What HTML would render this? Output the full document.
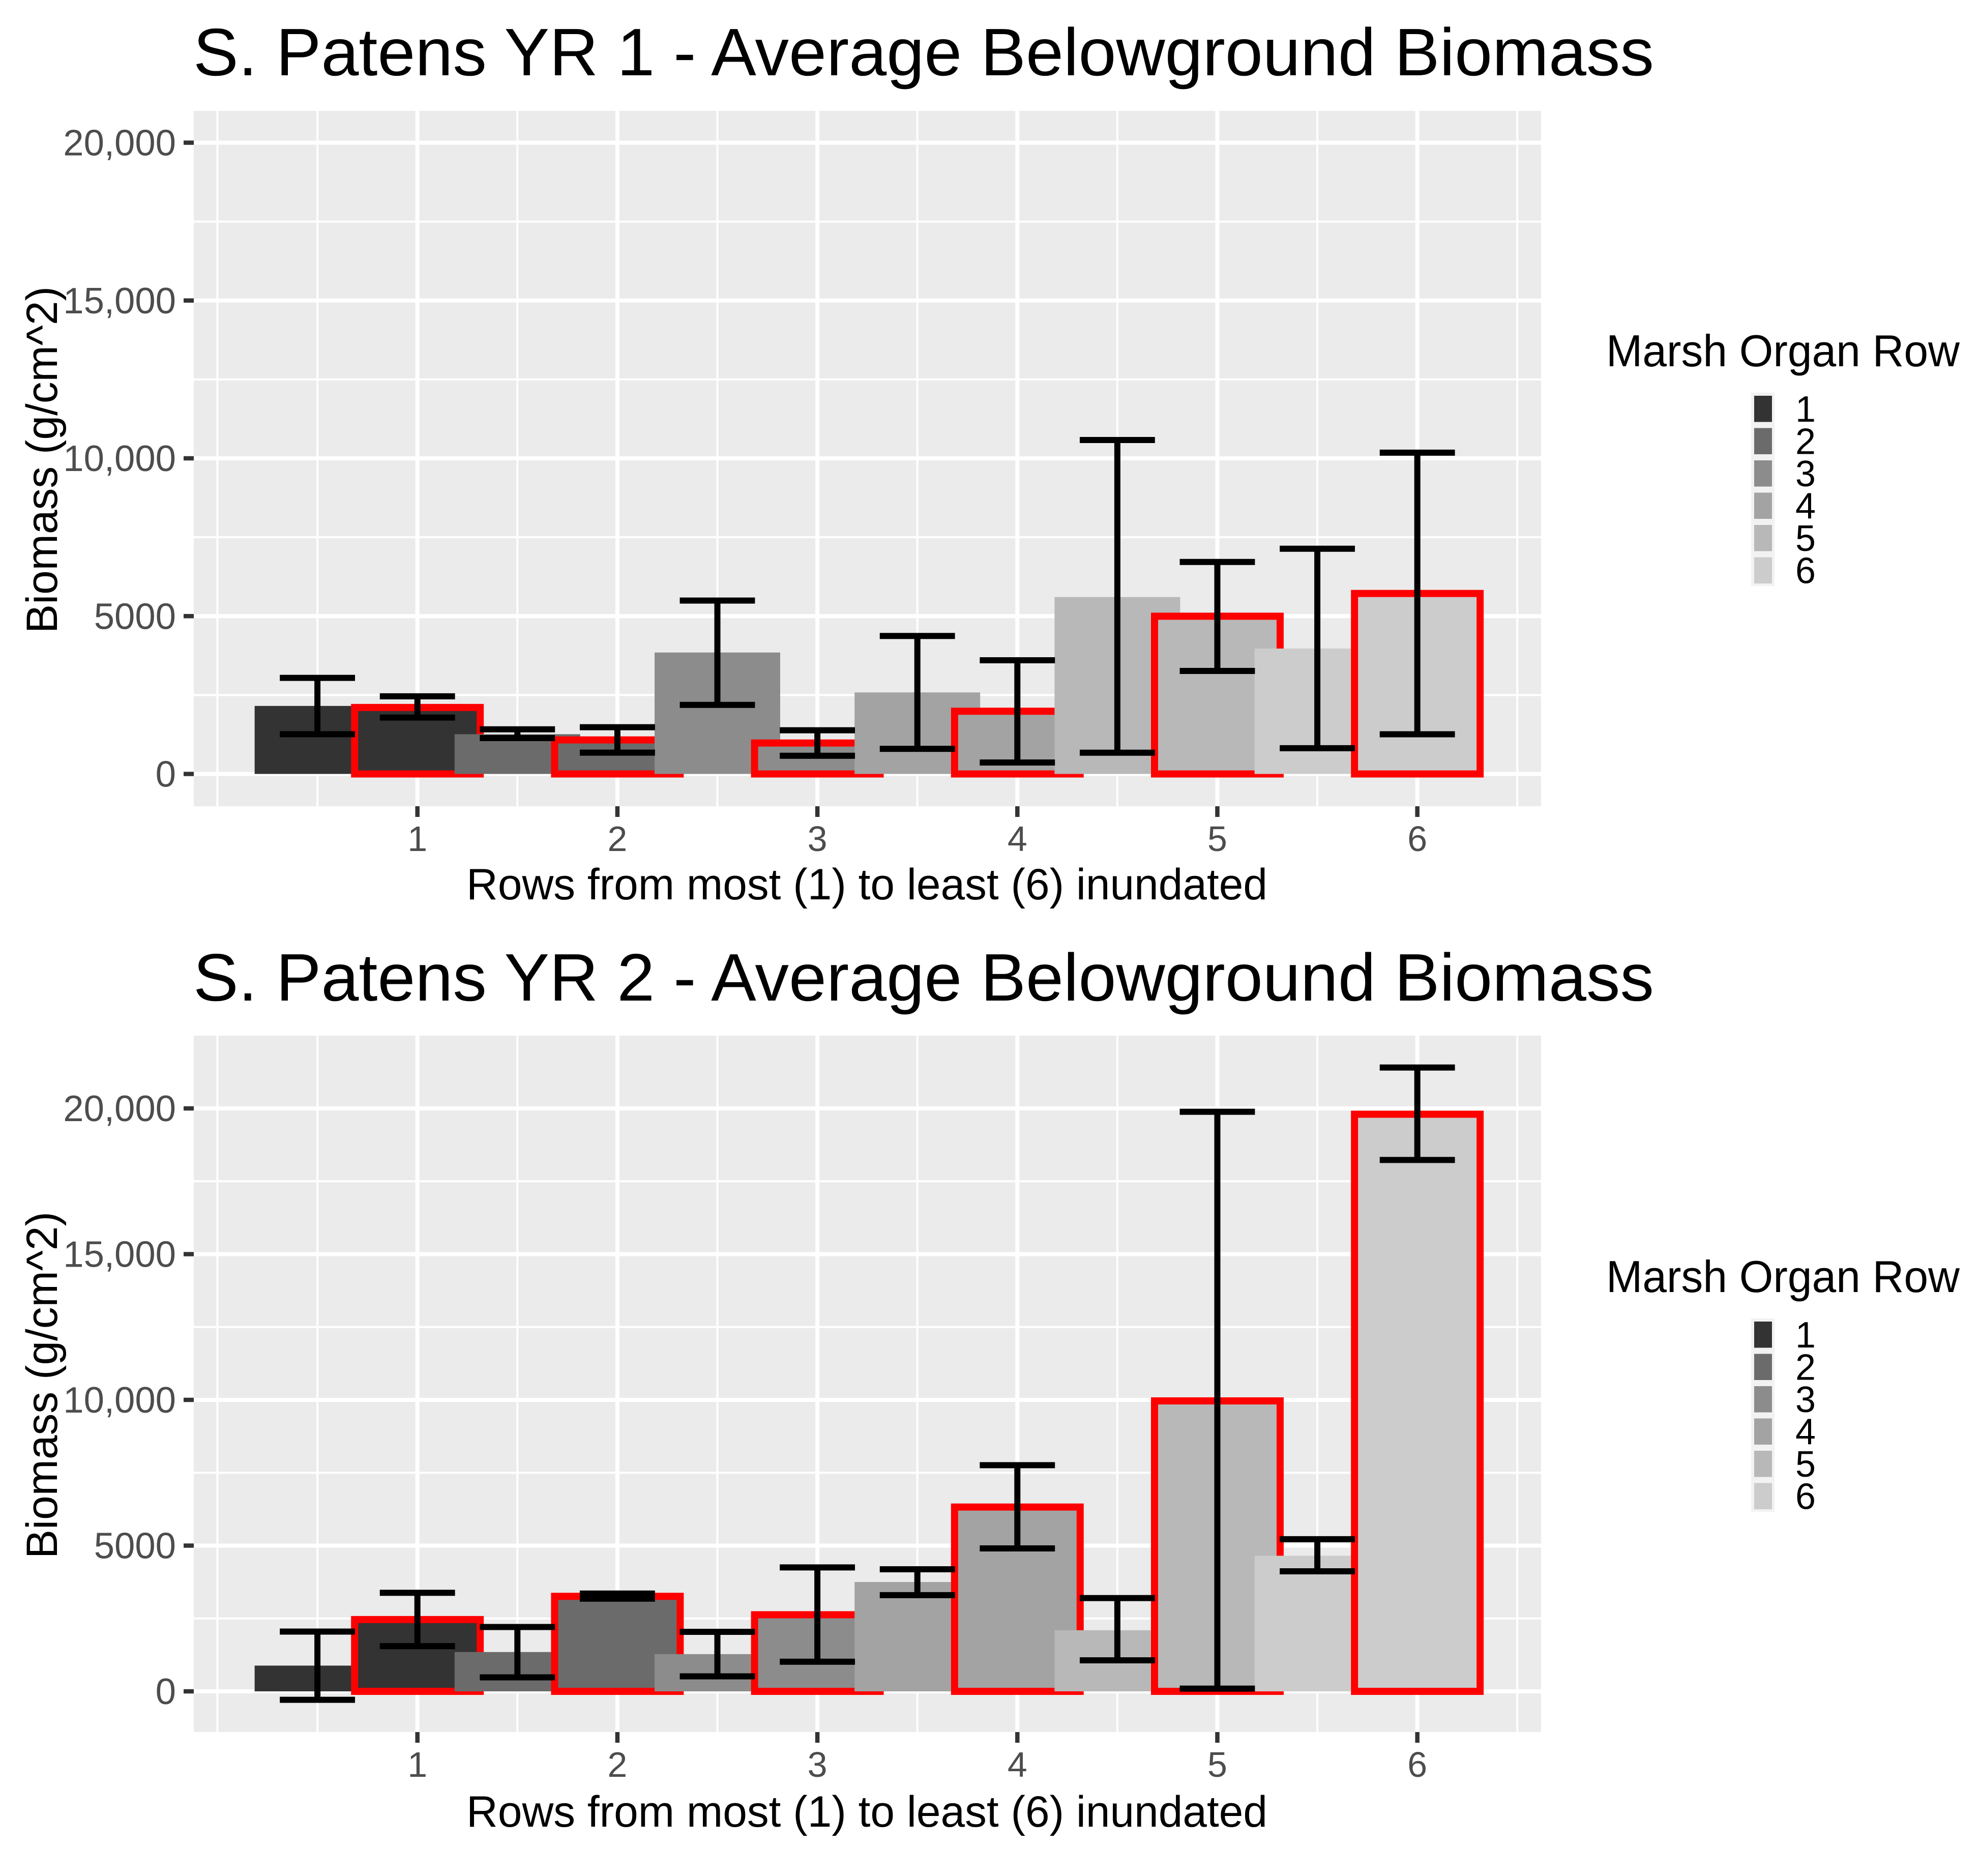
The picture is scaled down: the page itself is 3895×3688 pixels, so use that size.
<!DOCTYPE html>
<html lang="en">
<head>
<meta charset="utf-8">
<title>S. Patens Average Belowground Biomass</title>
<style>
html,body{margin:0;padding:0;background:#fff;}
svg{display:block;}
text{font-family:"Liberation Sans",Arial,sans-serif;}
</style>
</head>
<body>
<svg id="figure" xmlns="http://www.w3.org/2000/svg" width="3895" height="3688" viewBox="0 0 3895 3688">
  <rect width="3895" height="3688" fill="#ffffff"/>
  <text x="380" y="148" font-size="132" fill="#000" textLength="2872" lengthAdjust="spacingAndGlyphs">S. Patens YR 1 - Average Belowground Biomass</text>
  <text x="380" y="1967" font-size="132" fill="#000" textLength="2872" lengthAdjust="spacingAndGlyphs">S. Patens YR 2 - Average Belowground Biomass</text>
  <g id="panel-1"></g>
  <g id="panel-2"></g>
  <text x="917" y="1768" font-size="86" fill="#000" textLength="1575" lengthAdjust="spacingAndGlyphs">Rows from most (1) to least (6) inundated</text>
  <text x="917" y="3591" font-size="86" fill="#000" textLength="1575" lengthAdjust="spacingAndGlyphs">Rows from most (1) to least (6) inundated</text>
  <text transform="translate(112 1245) rotate(-90)" x="0" y="0" font-size="86" fill="#000" textLength="682" lengthAdjust="spacingAndGlyphs">Biomass (g/cm^2)</text>
  <text transform="translate(112 3064) rotate(-90)" x="0" y="0" font-size="86" fill="#000" textLength="682" lengthAdjust="spacingAndGlyphs">Biomass (g/cm^2)</text>
  <text x="3158" y="720" font-size="88" fill="#000" textLength="695" lengthAdjust="spacingAndGlyphs">Marsh Organ Row</text>
  <text x="3158" y="2540" font-size="88" fill="#000" textLength="695" lengthAdjust="spacingAndGlyphs">Marsh Organ Row</text>
  <g id="legend-1"></g>
  <g id="legend-2"></g>
</svg>
<script>
// Data
const barPositions = [0.5, 1, 1.5, 2, 2.5, 3, 3.5, 4, 4.5, 5, 5.5, 6];
const barRows = [1, 1, 2, 2, 3, 3, 4, 4, 5, 5, 6, 6];
const year1Means = [2155, 2106, 1259, 1078, 3848, 980, 2583, 1987, 5605, 4997, 3973, 5718];
const year1Upper = [3044, 2459, 1415, 1481, 5494, 1383, 4371, 3602, 10580, 6716, 7136, 10179];
const year1Lower = [1259, 1786, 1136, 675, 2188, 577, 795, 363, 672, 3264, 815, 1257];
const year2Means = [883, 2463, 1349, 3260, 1277, 2628, 3752, 6323, 2097, 9965, 4653, 19800];
const year2Upper = [2050, 3382, 2208, 3356, 2042, 4251, 4188, 7759, 3200, 19885, 5221, 21403];
const year2Lower = [-291, 1550, 480, 3181, 515, 1016, 3300, 4904, 1064, 94, 4119, 18230];
const xTicks = [1, 2, 3, 4, 5, 6];
const xMinorBreaks = [0, 0.5, 1.5, 2.5, 3.5, 4.5, 5.5, 6.5];
const yTicks = [0, 5000, 10000, 15000, 20000];
const yTickLabels = ['0', '5000', '10,000', '15,000', '20,000'];
const legendRows = ['1', '2', '3', '4', '5', '6'];
const rowShades = ['#333333', '#6b6b6b', '#8c8c8c', '#a3a3a3', '#b8b8b8', '#cccccc'];

const NS = 'http://www.w3.org/2000/svg';
const PANEL_LEFT = 381;
const PANEL_RIGHT = 3030;
const BAR_HALF = 0.314;
const CAP_HALF = 0.188;

function xScale(v) {
  return 820.7 + (v - 1) * 393.2;
}
function make(parent, tag, attrs) {
  const el = document.createElementNS(NS, tag);
  for (const k in attrs) el.setAttribute(k, attrs[k]);
  parent.appendChild(el);
  return el;
}

function drawPanel(root, top, bottom, yScale, yearLabel, means, upper, lower) {
  const bg = make(root, 'rect', {x: PANEL_LEFT, y: top, width: PANEL_RIGHT - PANEL_LEFT, height: bottom - top, fill: '#ebebeb'});
  
  

  // minor gridlines
  for (let i = 0; i < yTicks.length - 1; i++) {
    const y = yScale((yTicks[i] + yTicks[i + 1]) / 2);
    const g = make(root, 'line', {x1: PANEL_LEFT, x2: PANEL_RIGHT, y1: y, y2: y, stroke: '#fff', 'stroke-width': 4});
    
    
  }
  xMinorBreaks.forEach(function (b) {
    const x = xScale(b);
    const g = make(root, 'line', {x1: x, x2: x, y1: top, y2: bottom, stroke: '#fff', 'stroke-width': 4});
    
    
  });
  // major gridlines
  yTicks.forEach(function (t) {
    const y = yScale(t);
    const g = make(root, 'line', {x1: PANEL_LEFT, x2: PANEL_RIGHT, y1: y, y2: y, stroke: '#fff', 'stroke-width': 8});
    
    
  });
  xTicks.forEach(function (t) {
    const x = xScale(t);
    const g = make(root, 'line', {x1: x, x2: x, y1: top, y2: bottom, stroke: '#fff', 'stroke-width': 8});
    
    
  });

  // bars painted left to right
  barPositions.forEach(function (pos, i) {
    const highlighted = Number.isInteger(pos);
    const x0 = xScale(pos - BAR_HALF);
    const x1 = xScale(pos + BAR_HALF);
    const yTop = yScale(means[i]);
    const yBase = yScale(0);
    const attrs = {x: x0, y: yTop, width: x1 - x0, height: yBase - yTop, fill: rowShades[barRows[i] - 1]};
    if (highlighted) {
      attrs.stroke = '#ff0000';
      attrs['stroke-width'] = 14;
    }
    const bar = make(root, 'rect', attrs);
    
    
  });

  // error bars on top
  barPositions.forEach(function (pos, i) {
    const group = make(root, 'g', {stroke: '#000', 'stroke-width': 12});
    
    
    const xc = xScale(pos);
    const xa = xScale(pos - CAP_HALF);
    const xb = xScale(pos + CAP_HALF);
    const yu = yScale(upper[i]);
    const yl = yScale(lower[i]);
    make(group, 'line', {x1: xc, x2: xc, y1: yu, y2: yl});
    make(group, 'line', {x1: xa, x2: xb, y1: yu, y2: yu});
    make(group, 'line', {x1: xa, x2: xb, y1: yl, y2: yl});
  });

  // y axis ticks and labels
  yTicks.forEach(function (t, i) {
    const y = yScale(t);
    const tick = make(root, 'line', {x1: PANEL_LEFT - 20, x2: PANEL_LEFT, y1: y, y2: y, stroke: '#333333', 'stroke-width': 8.5});
    
    
    const label = make(root, 'text', {x: 346, y: y + 25, 'font-size': 72.5, fill: '#4d4d4d', 'text-anchor': 'end'});
    label.textContent = yTickLabels[i];
    
    
  });
  // x axis ticks and labels
  xTicks.forEach(function (t) {
    const x = xScale(t);
    const tick = make(root, 'line', {x1: x, x2: x, y1: bottom, y2: bottom + 21, stroke: '#333333', 'stroke-width': 8.5});
    
    
    const label = make(root, 'text', {x: x, y: bottom + 88, 'font-size': 70, fill: '#4d4d4d', 'text-anchor': 'middle'});
    label.textContent = String(t);
    
    
  });
}

function drawLegend(root, offset) {
  const bg = make(root, 'rect', {x: 3443, y: 772 + offset, width: 46, height: 380, fill: '#f2f2f2'});
  
  
  legendRows.forEach(function (row, i) {
    const top = 778 + i * 63.5 + offset;
    const key = make(root, 'rect', {x: 3449, y: top, width: 35, height: 51.5, fill: rowShades[i]});
    
    
    const label = make(root, 'text', {x: 3530, y: top + 51, 'font-size': 72, fill: '#000'});
    label.textContent = row;
    
    
  });
}

function yScaleYear1(v) {
  return 1521.5 - v * 0.06205;
}
function yScaleYear2(v) {
  return 3325 - v * 0.0573;
}

drawPanel(document.getElementById('panel-1'), 218, 1585, yScaleYear1, 'year-1', year1Means, year1Upper, year1Lower);
drawPanel(document.getElementById('panel-2'), 2036, 3405, yScaleYear2, 'year-2', year2Means, year2Upper, year2Lower);
drawLegend(document.getElementById('legend-1'), 0);
drawLegend(document.getElementById('legend-2'), 1820);
</script>
</body>
</html>
